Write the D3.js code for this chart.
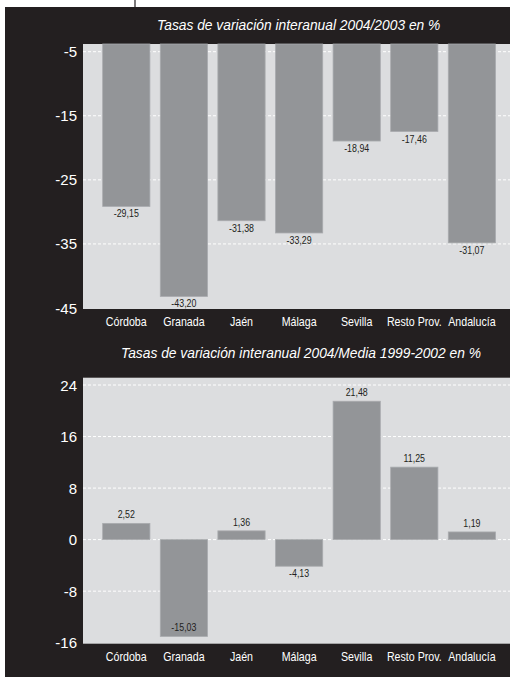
<!DOCTYPE html>
<html><head><meta charset="utf-8">
<script src="https://cdn.jsdelivr.net/npm/d3@7"></script>
<style>html,body{margin:0;padding:0;background:#fff;}svg{display:block;}</style>
</head><body>
<script>
const categories = ["Córdoba","Granada","Jaén","Málaga","Sevilla","Resto Prov.","Andalucía"];
// bar lengths as drawn in the picture
const valuesTop = [-29.15,-43.20,-31.38,-33.29,-18.94,-17.46,-34.84];
// printed labels
const labelsTop = ["-29,15","-43,20","-31,38","-33,29","-18,94","-17,46","-31,07"];
const valuesBottom = [2.52,-15.03,1.36,-4.13,21.48,11.25,1.19];
const labelsBottom = ["2,52","-15,03","1,36","-4,13","21,48","11,25","1,19"];
const ticksTop = [-5,-15,-25,-35,-45];
const ticksBottom = [24,16,8,0,-8,-16];
const titleTop = "Tasas de variación interanual 2004/2003 en %";
const titleBottom = "Tasas de variación interanual 2004/Media 1999-2002 en %";

const W = 510, H = 677;
const svg = d3.select("body").append("svg").attr("width", W).attr("height", H);
const DARK = "#231f20", PLOT = "#dcdddf", BAR = "#939598";
const SANS = "'Liberation Sans', Arial, sans-serif";
const NARROW_SCALE = 0.82;

svg.append("rect").attr("x",0).attr("y",0).attr("width",W).attr("height",H).attr("fill","#fff");
svg.append("rect").attr("x",5).attr("y",7).attr("width",W-5).attr("height",H-7).attr("fill",DARK);
svg.append("line").attr("x1",135).attr("x2",135).attr("y1",0).attr("y2",7).attr("stroke",DARK).attr("stroke-width",1.2);

const x = d3.scaleBand().domain(categories).range([97.5, 500.7]).paddingInner(0.18).paddingOuter(0.09);
const plotLeft = 83, plotRight = 510;

function panel(opts){
  const {values, labels, ticks, domain, yRange, plotTop, plotBottom, title, titleY, titleX, catY, fromTop} = opts;
  const y = d3.scaleLinear().domain(domain).range(yRange);
  const g = svg.append("g");
  g.append("rect").attr("x",plotLeft).attr("y",plotTop).attr("width",plotRight-plotLeft).attr("height",plotBottom-plotTop).attr("fill",PLOT);
  g.selectAll("line.grid").data(ticks.filter(t=>t!==domain[0])).join("line")
    .attr("x1",plotLeft).attr("x2",plotRight)
    .attr("y1",d=>y(d)).attr("y2",d=>y(d))
    .attr("stroke","#fff").attr("stroke-width",1).attr("stroke-dasharray","3,2");
  g.selectAll("text.tick").data(ticks).join("text")
    .attr("x",77).attr("y",d=>y(d)+5.5)
    .attr("text-anchor","end").attr("fill","#fff")
    .attr("font-family",SANS).attr("font-size",15)
    .text(d=>d);
  g.selectAll("rect.bar").data(values).join("rect")
    .attr("x",(d,i)=>x(categories[i])).attr("width",x.bandwidth())
    .attr("y",d=> fromTop ? plotTop : Math.min(y(0),y(d)))
    .attr("height",d=> fromTop ? y(d)-plotTop : Math.abs(y(d)-y(0)))
    .attr("fill",BAR).attr("stroke","#a9abae").attr("stroke-width",0.8);
  g.selectAll("text.val").data(values).join("text")
    .attr("transform",(d,i)=>{
      const cx = x(categories[i])+x.bandwidth()/2;
      let cy;
      if (d >= 0 && !fromTop) cy = y(d)-5;
      else { const below = y(d)+11; cy = below > plotBottom-1 ? y(d)-5 : below; }
      return `translate(${cx},${cy}) scale(${NARROW_SCALE},1)`;
    })
    .attr("text-anchor","middle").attr("fill",DARK)
    .attr("font-family",SANS).attr("font-size",10.8)
    .text((d,i)=>labels[i]);
  g.selectAll("text.cat").data(categories).join("text")
    .attr("transform",d=>`translate(${x(d)+x.bandwidth()/2},${catY}) scale(${NARROW_SCALE},1)`)
    .attr("text-anchor","middle").attr("fill","#fff")
    .attr("font-family",SANS).attr("font-size",13)
    .text(d=>d);
  g.append("text").attr("x",titleX).attr("y",titleY)
    .attr("text-anchor","middle").attr("fill","#fff")
    .attr("font-family",SANS).attr("font-style","italic").attr("font-size",13.8)
    .text(title);
}

panel({values: valuesTop, labels: labelsTop, ticks: ticksTop, domain: [-45,-5], yRange: [308, 51.7],
  plotTop: 44, plotBottom: 309, title: titleTop, titleY: 30, titleX: 298.7, catY: 326, fromTop: true});
panel({values: valuesBottom, labels: labelsBottom, ticks: ticksBottom, domain: [-16,24], yRange: [642.7, 385],
  plotTop: 377.7, plotBottom: 643.7, title: titleBottom, titleY: 358, titleX: 301, catY: 661, fromTop: false});
</script>
</body></html>
